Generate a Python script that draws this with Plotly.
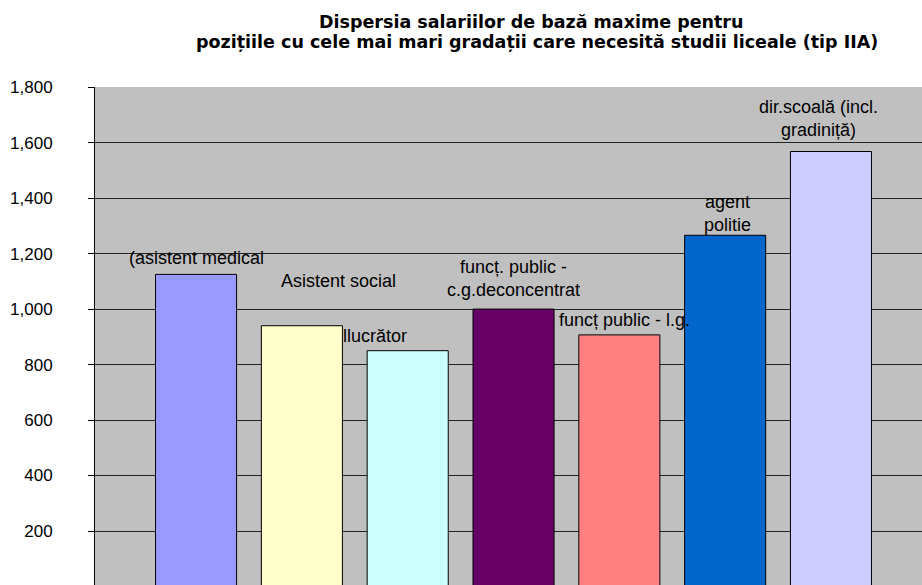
import plotly.graph_objects as go

categories = ["(asistent medical", "Asistent social", "llucrător", "funcț. public -<br>c.g.deconcentrat",
              "funcț public - l.g.", "agent<br>politie", "dir.scoală (incl.<br>gradiniță)"]
values = [1125, 940, 850, 1000, 907, 1266, 1568]
colors = ["#9999FF", "#FFFFCC", "#CCFFFF", "#660066", "#FF8080", "#0066CC", "#CCCCFF"]
# label anchor positions (category offset, value) as placed in the original
label_x = [0.0, 1.35, 1.695, 3.0, 4.05, 5.02, 5.88]
label_y = [1185, 1100, 904, 1109, 961, 1343, 1686]

title_lines = ["Dispersia salariilor de bază maxime pentru",
               "pozițiile cu cele mai mari gradații care necesită studii liceale (tip IIA)"]

FONT = "Liberation Sans, Arial, sans-serif"
TFONT = "DejaVu Sans, Verdana, sans-serif"

W, H = 922, 585
ML, MR, MT, MB = 95, 0, 87, 0

fig = go.Figure()
fig.add_trace(go.Bar(
    x=list(range(len(values))), y=values,
    marker=dict(color=colors, line=dict(color="#000000", width=1)),
    width=0.766, showlegend=False, hoverinfo="skip",
))

for t, lx, ly in zip(categories, label_x, label_y):
    fig.add_annotation(x=lx, y=ly, xref="x", yref="y", text=t, showarrow=False,
                       font=dict(family=FONT, size=18, color="#000000"),
                       xanchor="center", yanchor="middle", align="center")

# title lines, placed in pixel terms converted to paper coordinates
plot_w = W - ML - MR
plot_h = H - MT - MB
for txt, cx, cy in zip(title_lines, [531, 537], [22, 42]):
    fig.add_annotation(x=(cx - ML) / plot_w, y=(H - MB - cy) / plot_h, xref="paper", yref="paper",
                       text=txt, showarrow=False, xanchor="center", yanchor="middle",
                       font=dict(family=TFONT, size=17.5, color="#000000", weight="bold"))

fig.update_layout(
    width=W, height=H,
    margin=dict(l=ML, r=MR, t=MT, b=MB),
    paper_bgcolor="#FFFFFF", plot_bgcolor="#C0C0C0",
    xaxis=dict(range=[-0.955, 6.86], showticklabels=False, showgrid=False, zeroline=False,
               showline=False, ticks=""),
    yaxis=dict(range=[5.4, 1800.5], dtick=200, tick0=0, tickformat=",d",
               showgrid=True, gridcolor="#222222", gridwidth=1, zeroline=False,
               showline=True, linecolor="#000000", linewidth=1,
               ticks="outside", ticklen=6, tickcolor="#000000",
               ticklabelstandoff=32,
               tickfont=dict(family=FONT, size=17, color="#000000")),
    bargap=0.2,
)

fig.write_html("out.html")
